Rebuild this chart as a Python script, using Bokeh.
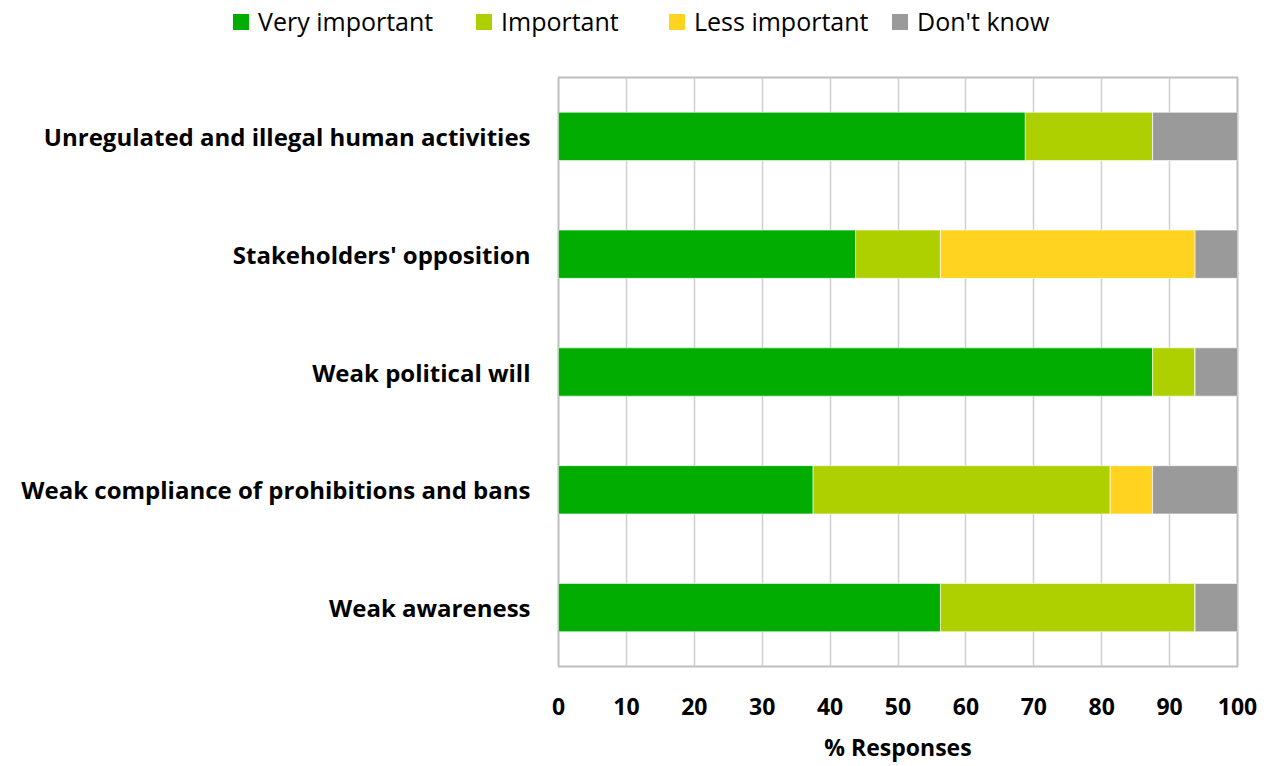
from bokeh.plotting import figure
from bokeh.layouts import column
from bokeh.models import FactorRange, Range1d, FixedTicker, ColumnDataSource, Div
from bokeh.embed import file_html
from bokeh.resources import INLINE

categories = ["Unregulated and illegal human activities", "Stakeholders' opposition",
              "Weak political will", "Weak compliance of prohibitions and bans", "Weak awareness"]
very_important = [68.75, 43.75, 87.5, 37.5, 56.25]
important = [18.75, 12.5, 6.25, 43.75, 37.5]
less_important = [0, 37.5, 0, 6.25, 0]
dont_know = [12.5, 6.25, 6.25, 12.5, 6.25]
series_names = ["Very important", "Important", "Less important", "Don't know"]
colors = ["#00AD00", "#AFD000", "#FFD320", "#9A9A9A"]
x_ticks = list(range(0, 101, 10))

source = ColumnDataSource(dict(cat=categories, v1=very_important, v2=important,
                               v3=less_important, v4=dont_know))

FONT = "Open Sans"
LEG_H = 60
TOTAL_H = 766
item_widths = ["243px", "193px", "223px", "auto"]

# ---- legend strip (HTML) ----
parts = []
for n, c, w in zip(series_names, colors, item_widths):
    parts.append(
        f'<div style="display:flex;align-items:center;width:{w};flex:none;">'
        f'<span style="display:inline-block;width:16px;height:16px;background:{c};'
        f'margin-right:9px;"></span><span>{n}</span></div>')
legend_html = (
    f'<div style="display:flex;align-items:center;height:{LEG_H - 16}px;padding-left:233px;'
    f'font-family:\'{FONT}\';font-size:25px;color:#000;white-space:nowrap;">'
    + "".join(parts) + "</div>")
legend_div = Div(text=legend_html, width=1265, height=LEG_H, margin=0)

# ---- main chart ----
p = figure(y_range=FactorRange(*reversed(categories), range_padding=0),
           x_range=Range1d(0, 100), width=1265, height=TOTAL_H - LEG_H,
           output_backend="svg", toolbar_location=None,
           min_border_left=558, min_border_right=28, min_border_top=77 - LEG_H,
           min_border_bottom=100)

rs = p.hbar_stack(["v1", "v2", "v3", "v4"], y="cat", height=0.41, color=colors,
                  line_color="white", line_width=0.6, source=source)

p.xaxis.ticker = FixedTicker(ticks=x_ticks)
p.xaxis.axis_label = "% Responses"
p.xaxis.axis_label_text_font = FONT
p.xaxis.axis_label_text_font_style = "bold"
p.xaxis.axis_label_text_font_size = "23px"
p.xaxis.axis_label_text_color = "black"
p.xaxis.axis_label_standoff = 13
p.xaxis.major_label_text_font = FONT
p.xaxis.major_label_text_font_style = "bold"
p.xaxis.major_label_text_font_size = "23px"
p.xaxis.major_label_text_color = "black"
p.xaxis.major_label_standoff = 25
p.xaxis.axis_line_color = None
p.xaxis.major_tick_line_color = None
p.xaxis.minor_tick_line_color = None

p.yaxis.major_label_text_font = FONT
p.yaxis.major_label_text_font_style = "bold"
p.yaxis.major_label_text_font_size = "24px"
p.yaxis.major_label_text_color = "black"
p.yaxis.major_label_standoff = 22
p.yaxis.axis_line_color = None
p.yaxis.major_tick_line_color = None
p.yaxis.minor_tick_line_color = None

p.ygrid.grid_line_color = None
p.xgrid.grid_line_color = "#CFCFCF"
p.xgrid.grid_line_width = 1.5
p.outline_line_color = "#BDBDBD"
p.outline_line_width = 2

layout = column(legend_div, p, spacing=0)
open("out.html", "w").write(file_html(layout, INLINE))
